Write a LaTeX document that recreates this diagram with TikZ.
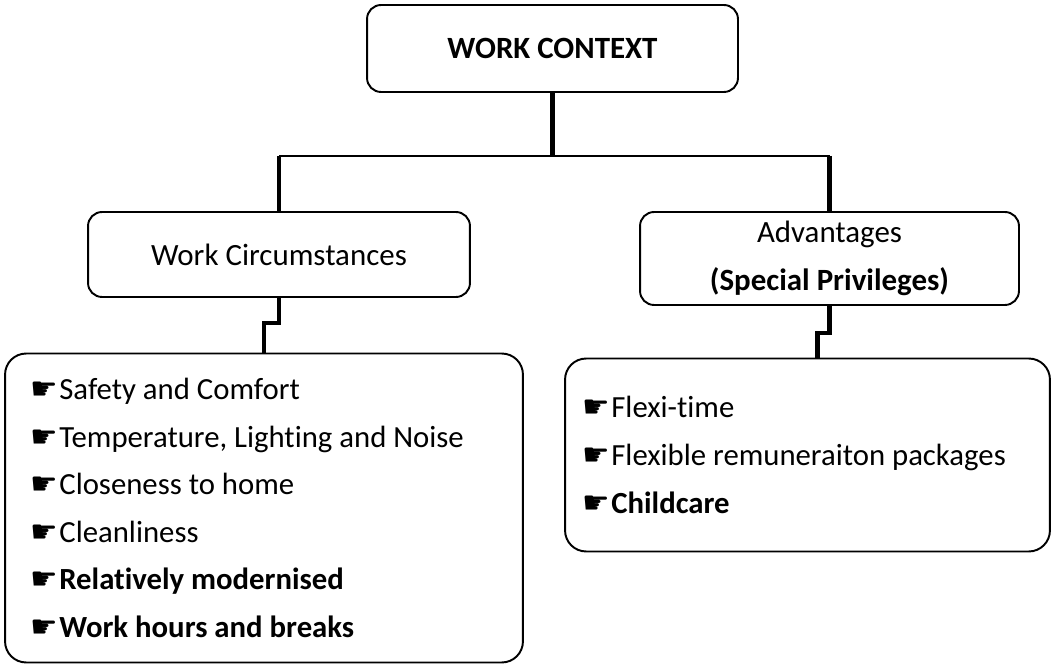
\documentclass[tikz,border=0pt]{standalone}
\usepackage{fontspec}
\setmainfont{Carlito}[Ligatures=NoCommon]
\newfontfamily\handfont{DejaVu Sans}
\usetikzlibrary{positioning,calc}
\newcommand{\hand}{{\handfont\char"261B}\hspace{1pt}}

\begin{document}
\begin{tikzpicture}[
  x=0.02cm, y=-0.02cm,
  box/.style={draw, line width=1.1pt, rounded corners=8pt, inner sep=0pt, align=center},
  head/.style={box, font=\fontsize{17.6}{27.2}\selectfont},
  listbox/.style={draw, line width=1.1pt, rounded corners=12pt, align=flush left, inner ysep=0pt,
    font=\fontsize{17.5}{27.1}\selectfont},
  stem/.style={line width=2.6pt},
  bar/.style={line width=1.6pt},
]
\useasboundingbox (0,0) rectangle (1056,672);

% ---------------- top ----------------
\node[head, minimum width=7.42cm, minimum height=1.74cm] (ctx) at (552.5,48.5) {\textbf{WORK CONTEXT}};

% ---------------- second row ----------------
\node[head, minimum width=7.64cm, minimum height=1.70cm] (circ) at (279,254.5) {Work Circumstances};
\node[head, minimum width=7.58cm, minimum height=1.86cm] (adv) at (829.5,258.5) {Advantages \\ \textbf{(Special Privileges)}};

% ---------------- lists ----------------
\node[listbox, minimum width=10.36cm, minimum height=6.18cm, text width=9.36cm, inner xsep=0.5cm] (clist) at (264,508) {%
  \hand Safety and Comfort \\
  \hand Temperature, Lighting and Noise \\
  \hand Closeness to home \\
  \hand Cleanliness \\
  \hand\textbf{Relatively modernised} \\
  \hand\textbf{Work hours and breaks}};
\node[listbox, minimum width=9.70cm, minimum height=3.86cm, text width=9.02cm, inner xsep=0.34cm] (alist) at (807.5,455) {%
  \hand Flexi-time \\
  \hand Flexible remuneraiton packages \\
  \hand\textbf{Childcare}};

% ---------------- connectors ----------------
\draw[stem] (ctx.south) -- ++(0,63) coordinate (fork);
\draw[bar] (fork -| circ.north) -- (fork -| adv.north);
\draw[stem] (fork -| circ.north) -- (circ.north);
\draw[stem] (fork -| adv.north) -- (adv.north);

\draw[stem] (circ.south) -- ++(0,25) -| (clist.north);
\draw[stem] (adv.south) -- ++(0,27) -| ([xshift=0.2cm]alist.north);
\end{tikzpicture}
\end{document}
